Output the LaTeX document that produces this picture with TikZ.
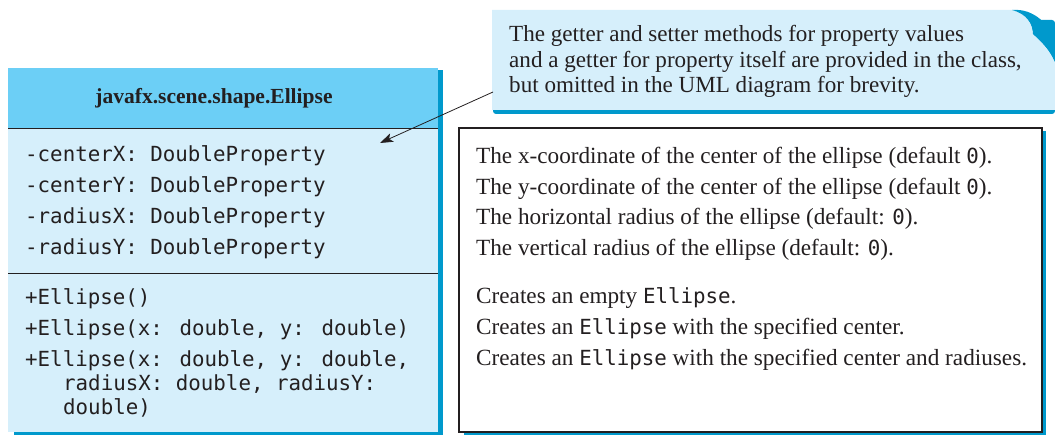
\documentclass[tikz,border=0pt]{standalone}
\usepackage{fontspec}
\setmainfont{Liberation Serif}
\newfontfamily\monof{DejaVu Sans Mono}
\usetikzlibrary{arrows.meta}
\definecolor{hdr}{HTML}{6CCFF6}
\definecolor{bodyc}{HTML}{D6EFFB}
\definecolor{dkblue}{HTML}{0099CC}
\definecolor{ink}{HTML}{231F20}
\begin{document}
\begin{tikzpicture}[x=1pt,y=-1pt,
  code/.style={anchor=base west, inner sep=0pt, font=\monof\fontsize{20.8}{24}\selectfont, text=ink},
  desc/.style={anchor=base west, inner sep=0pt, font=\fontsize{23.2}{26}\selectfont, text=ink},
  note/.style={anchor=base west, inner sep=0pt, font=\fontsize{23.1}{26}\selectfont, text=ink},
  ttl/.style={anchor=base, inner sep=0pt, font=\bfseries\fontsize{21.5}{25}\selectfont, text=ink},
  sep/.style={draw=ink, line width=0.9pt}
 ]
\newcommand{\mc}[1]{{\monof\fontsize{20.8}{23}\selectfont #1}}
\useasboundingbox (0,0) rectangle (1055,435);
% ---------- UML class box ----------
\fill[dkblue] (14,70) rectangle (443,435);
\fill[bodyc] (8,68) rectangle (438,432);
\fill[hdr] (8,68) rectangle (438,128);
\draw[sep] (8,128) -- (438,128);
\draw[sep] (8,273) -- (438,273);
\node[ttl] (title) at (214,104) {javafx.scene.shape.Ellipse};
\node[code] (a1) at (25,162) {-centerX: DoubleProperty};
\node[code] (a2) at (25,193) {-centerY: DoubleProperty};
\node[code] (a3) at (25,224) {-radiusX: DoubleProperty};
\node[code] (a4) at (25,255) {-radiusY: DoubleProperty};
\node[code] (m1) at (25,305) {+Ellipse()};
\node[code] (m2) at (25,336) {+Ellipse(x: double, y: double)};
\node[code] (m3) at (25,367) {+Ellipse(x: double, y: double,};
\node[code] (m3b) at (63,391) {radiusX: double, radiusY:};
\node[code] (m3c) at (63,415) {double)};
% ---------- description box ----------
\fill[dkblue] (464,131) rectangle (1046,435);
\draw[ink, line width=1.1pt, fill=white] (459,128) rectangle (1042,432);
\node[desc] (d1) at (476,164) {The x-coordinate of the center of the ellipse (default \mc{0}).};
\node[desc] (d2) at (476,195) {The y-coordinate of the center of the ellipse (default \mc{0}).};
\node[desc] (d3) at (476,225) {The horizontal radius of the ellipse (default: \mc{0}).};
\node[desc] (d4) at (476,256) {The vertical radius of the ellipse (default: \mc{0}).};
\node[desc] (d5) at (476,304) {Creates an empty \mc{Ellipse}.};
\node[desc] (d6) at (476,335) {Creates an \mc{Ellipse} with the specified center.};
\node[desc] (d7) at (476,366) {Creates an \mc{Ellipse} with the specified center and radiuses.};
% ---------- note ----------
\fill[dkblue, rounded corners=3pt] (493,20) rectangle (1055,114);
\fill[bodyc] (492,10) -- (1012,10) .. controls (1027,14) and (1033,24) .. (1033,34)
  .. controls (1041,41) and (1050,50) .. (1055,62) -- (1055,110) -- (492,110) -- cycle;
\fill[dkblue] (1012,10) .. controls (1034,8) and (1050,25) .. (1055,42) -- (1055,62)
  .. controls (1050,50) and (1041,41) .. (1033,34) .. controls (1033,24) and (1027,14) .. (1012,10) -- cycle;
\node[note] (n1) at (509,42) {The getter and setter methods for property values};
\node[note] (n2) at (509,68) {and a getter for property itself are provided in the class,};
\node[note] (n3) at (509,93) {but omitted in the UML diagram for brevity.};
\coordinate (notetail) at (493,92);
\coordinate (notehead) at (380,143);
\draw[ink, line width=0.8pt, -{Stealth[length=13pt,width=9pt,inset=3pt]}] (notetail) -- (notehead);
\end{tikzpicture}
\end{document}
